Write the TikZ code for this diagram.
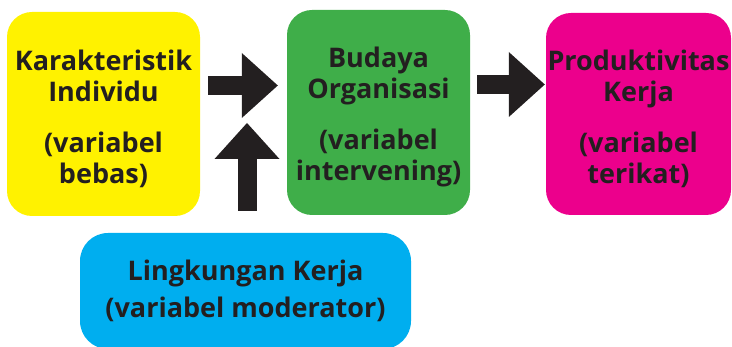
\documentclass[tikz,border=0pt]{standalone}
\usepackage{fontspec}
\setmainfont{Open Sans}
\usetikzlibrary{arrows.meta}
\definecolor{ink}{HTML}{231F20}
\definecolor{cyel}{HTML}{FFF200}
\definecolor{cgrn}{HTML}{3FAE49}
\definecolor{cpnk}{HTML}{EC008C}
\definecolor{cblu}{HTML}{00AEEF}
\newcommand{\topstrut}{\rule{0pt}{29.5pt}}
\tikzset{
  box/.style={rounded corners=25pt, inner sep=0pt, align=center, text=ink,
    font=\bfseries\fontsize{27}{31}\selectfont},
  blk/.style={draw=ink, line width=19pt,
    -{Triangle[width=65pt,length=36pt,line width=0pt,fill=ink,color=ink]}},
}
\begin{document}
\begin{tikzpicture}[x=1pt,y=-1pt]
\useasboundingbox (0,0) rectangle (732,347);
\node[box, fill=cyel, minimum width=193pt, minimum height=204pt] (yel) at (103.5,114)
  {\topstrut Karakteristik\\Individu\\[20pt](variabel\\bebas)};
\node[box, fill=cgrn, minimum width=183pt, minimum height=205pt] (grn) at (378.5,112.5)
  {\topstrut Budaya\\Organisasi\\[20pt](variabel\\intervening)};
\node[box, fill=cpnk, minimum width=185pt, minimum height=202pt] (pnk) at (638.5,114)
  {\topstrut Produktivitas\\Kerja\\[20pt](variabel\\terikat)};
\node[box, rounded corners=28pt, fill=cblu, minimum width=331pt, minimum height=116pt,
  font=\bfseries\fontsize{27}{37}\selectfont] (blu) at (245.5,291)
  {Lingkungan Kerja\\(variabel moderator)};
\coordinate (a1) at (0,85.5);
\coordinate (a3) at (0,84.5);
\coordinate (up) at (247,123);
\draw[blk, shorten <=8pt, shorten >=9pt] (yel.east |- a1) -- (grn.west |- a1);
\draw[blk, shorten <=7pt, shorten >=1pt] (grn.east |- a3) -- (pnk.west |- a3);
\draw[blk, shorten <=22pt] (blu.north -| up) -- (up);
\end{tikzpicture}
\end{document}
